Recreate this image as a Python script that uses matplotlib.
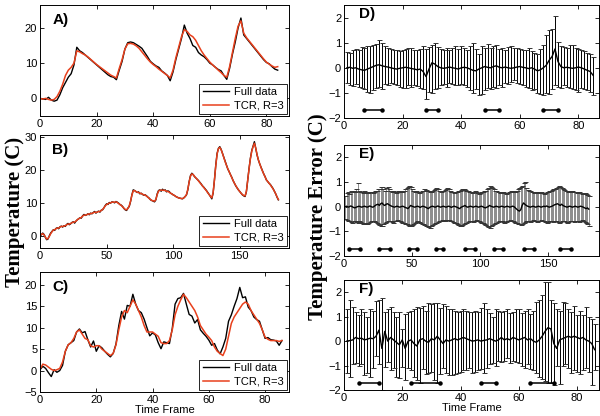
import numpy as np
import matplotlib
matplotlib.use('Agg')
import matplotlib.pyplot as plt

plt.rcParams['font.family'] = ['Liberation Sans', 'DejaVu Sans']
plt.rcParams['font.size'] = 8

# ---- Panel A: temperature, full data vs TCR (R=3)
a_full = [0, -0.2, -0.3, 0.3, -0.5, -0.8, -0.5, 1, 3, 4.5, 6, 7, 9.5, 14.5,
          13.5, 13, 12.3, 11.6, 10.9, 10.2, 9.5, 8.8, 8.1, 7.4, 6.7, 6.2, 6, 5.3,
          8, 10.5, 14, 15.8, 16, 15.8, 15.3, 14.8, 14.2, 13, 11.8, 10.5, 9.8, 9.2,
          8.8, 7.8, 7.2, 6.5, 5, 7.5, 11, 14, 17, 20.8, 18.5, 17, 15, 14.5, 13,
          12.3, 11.8, 11, 10, 9.5, 8.8, 8.2, 7.8, 6.5, 5.4, 8.5, 12.5, 16, 20, 22.8,
          18, 17, 16, 15, 14, 13, 12, 11, 10.2, 9.8, 9, 8.3, 8]
a_tcr = [0, -0.2, 0, -0.3, -0.5, -0.3, 0.5, 2, 4, 6.5, 8, 8.8, 10, 13.5, 13.2,
         12.7, 12.3, 11.7, 11, 10.3, 9.6, 9, 8.4, 7.8, 7.2, 6.6, 6.2, 5.8, 8.5, 11,
         14, 15.5, 15.6, 15.4, 14.9, 14.2, 13.2, 12.2, 11.2, 10.3, 9.6, 9, 8.3, 7.7,
         7.1, 6.5, 5.8, 8, 11.5, 14.5, 17.5, 19.5, 19, 18, 17.5, 16.5, 15, 13.5,
         12.3, 11.3, 10.3, 9.5, 8.8, 8, 7.3, 6.5, 6, 9, 13, 17, 20.5, 22, 18.5,
         17.2, 16.2, 15.2, 14.2, 13.2, 12.2, 11.2, 10.3, 9.7, 9.2, 8.8, 9]

# ---- Panel B
b_full = [0.0, 0.5, 1.0, 0.6, -0.3, -1.0, -0.8, 0.2, 1.0, 1.5,
          2.0, 1.8, 2.4, 2.6, 2.3, 2.9, 3.1, 2.8, 3.2, 3.0,
          3.6, 3.9, 3.5, 3.8, 4.2, 4.4, 4.0, 4.6, 5.0, 5.3,
          5.6, 5.5, 6.2, 6.6, 6.3, 6.5, 6.8, 6.5, 7.0, 6.8,
          7.2, 7.5, 7.0, 7.4, 7.6, 7.3, 7.9, 8.0, 8.6, 9.3,
          9.8, 9.6, 10.2, 10.0, 10.4, 10.3, 10.1, 10.5, 10.3, 10.0,
          9.6, 9.4, 9.0, 8.4, 8.0, 7.8, 8.5, 9.0, 10.5, 12.5,
          14.0, 13.8, 13.5, 13.2, 13.4, 12.8, 13.0, 12.6, 12.4, 12.5,
          12.2, 11.8, 11.5, 11.0, 10.8, 10.6, 10.4, 11.0, 12.8, 13.8,
          14.0, 13.6, 14.2, 13.8, 14.0, 13.4, 13.7, 13.5, 13.0, 12.8,
          12.5, 12.3, 12.0, 11.8, 11.6, 11.5, 11.4, 11.3, 11.6, 12.0,
          12.5, 14.0, 16.5, 18.3, 19.0, 18.6, 18.0, 17.6, 17.2, 16.8,
          16.3, 15.8, 15.2, 14.8, 14.3, 13.8, 13.2, 12.6, 12.0, 11.3,
          13.0, 17.0, 21.5, 25.0, 26.5, 27.0, 26.2, 25.0, 23.8, 22.5,
          21.5, 20.3, 19.5, 18.6, 17.8, 16.8, 16.0, 15.2, 14.6, 14.0,
          13.5, 13.0, 12.5, 12.2, 12.0, 13.5, 17.0, 20.5, 23.5, 25.8,
          27.2, 28.5, 26.5, 24.5, 23.0, 21.8, 20.8, 19.8, 18.8, 18.0,
          17.0, 16.5, 16.0, 15.6, 15.0, 14.4, 13.6, 12.8, 11.8, 11.0]
b_tcr = [0.2, 0.6, 0.8, 0.5, -0.2, -0.8, -0.6, 0.0, 0.8, 1.4,
         1.9, 2.0, 2.3, 2.5, 2.5, 2.8, 3.0, 3.0, 3.1, 3.2,
         3.5, 3.7, 3.7, 3.9, 4.1, 4.3, 4.3, 4.6, 5.0, 5.3,
         5.5, 5.7, 6.1, 6.4, 6.4, 6.5, 6.7, 6.7, 6.9, 6.9,
         7.1, 7.3, 7.2, 7.3, 7.5, 7.5, 7.8, 8.1, 8.6, 9.2,
         9.6, 9.8, 10.0, 10.1, 10.3, 10.3, 10.3, 10.4, 10.2, 9.9,
         9.6, 9.3, 8.9, 8.5, 8.1, 8.0, 8.4, 9.2, 10.6, 12.4,
         13.7, 13.8, 13.5, 13.3, 13.2, 13.0, 12.9, 12.7, 12.5, 12.4,
         12.1, 11.8, 11.4, 11.1, 10.8, 10.7, 10.6, 11.1, 12.6, 13.6,
         13.9, 13.9, 13.9, 13.9, 13.8, 13.6, 13.5, 13.3, 13.0, 12.8,
         12.5, 12.3, 12.0, 11.8, 11.6, 11.5, 11.4, 11.4, 11.6, 12.0,
         12.6, 14.2, 16.4, 18.1, 18.8, 18.6, 18.1, 17.6, 17.2, 16.7,
         16.2, 15.7, 15.2, 14.7, 14.2, 13.7, 13.1, 12.6, 12.0, 11.6,
         13.2, 17.0, 21.3, 24.8, 26.4, 26.8, 26.1, 25.0, 23.7, 22.5,
         21.4, 20.4, 19.5, 18.6, 17.7, 16.8, 16.0, 15.3, 14.6, 14.0,
         13.5, 13.0, 12.6, 12.3, 12.2, 13.6, 17.0, 20.4, 23.4, 25.6,
         27.0, 28.0, 26.6, 24.6, 23.0, 21.8, 20.7, 19.7, 18.8, 17.9,
         17.0, 16.5, 16.0, 15.5, 14.9, 14.3, 13.6, 12.8, 11.9, 11.1]

# ---- Panel C
c_full = [0.2, 1.0, 0.5, -0.5, -1.4, 0.2, -0.4, 0.0, 1.2, 4.5, 6.0, 6.5, 7.0,
          9.0, 9.7, 8.8, 9.1, 7.2, 5.5, 6.9, 4.5, 5.8, 5.3, 4.5, 3.8, 3.2, 4.0,
          6.2, 10.5, 13.8, 12.0, 15.2, 15.0, 17.8, 15.5, 14.0, 13.5, 12.0, 10.0,
          8.1, 8.8, 8.3, 6.5, 5.1, 6.7, 6.5, 6.3, 9.8, 15.5, 16.8, 17.0, 18.0,
          15.5, 13.1, 12.7, 11.1, 11.9, 9.5, 8.7, 8.0, 7.1, 5.9, 6.3, 4.8, 3.9,
          5.5, 7.5, 11.5, 13.0, 15.0, 16.8, 19.4, 17.0, 17.2, 14.8, 14.0, 12.5,
          11.9, 11.5, 9.5, 7.5, 7.7, 7.2, 7.1, 6.9, 5.9, 7.0]
c_tcr = [0.3, 1.5, 1.3, 0.8, 0.3, 0.0, 0.2, 0.5, 2.0, 4.5, 6.0, 6.5, 7.5, 9.0,
         9.5, 8.5, 7.5, 7.2, 5.8, 5.5, 5.8, 5.8, 5.0, 4.5, 4.0, 3.5, 4.0, 6.0,
         9.5, 12.5, 14.0, 13.5, 15.0, 16.5, 15.5, 14.0, 12.5, 10.5, 9.0, 9.0,
         9.0, 8.5, 8.0, 6.5, 6.3, 6.3, 7.0, 9.5, 13.0, 15.0, 16.5, 17.8, 17.0,
         16.0, 15.0, 14.0, 12.5, 10.5, 9.5, 8.5, 7.8, 7.0, 5.5, 4.5, 4.0, 3.5,
         5.0, 8.0, 11.0, 12.5, 13.5, 14.5, 15.5, 16.0, 15.5, 14.0, 13.0, 12.0,
         11.0, 9.5, 7.8, 7.3, 7.0, 7.0, 7.0, 6.8, 7.0]

# ---- Panel D: temperature error (mean, upper and lower bar ends)
d_mean = [0.00, 0.02, -0.02, 0.00, -0.05, -0.08, -0.10, -0.05, 0.00, 0.05,
          0.10, 0.12, 0.08, 0.05, 0.03, 0.00, -0.03, -0.05, -0.02, 0.00,
          0.02, 0.00, -0.03, -0.05, -0.08, -0.05, -0.15, -0.35, -0.05, 0.20,
          0.15, 0.05, 0.00, -0.02, 0.00, 0.03, 0.00, -0.02, -0.05, 0.00,
          0.02, 0.00, -0.05, -0.10, -0.12, -0.05, 0.00, 0.05, 0.02, 0.00,
          0.05, 0.08, 0.02, 0.00, 0.03, 0.00, -0.02, 0.00, 0.03, 0.05,
          0.02, 0.00, -0.03, 0.00, -0.05, -0.12, -0.08, 0.00, 0.10, 0.30,
          0.45, 0.75, 0.25, 0.05, 0.00, 0.02, 0.00, -0.02, 0.00, 0.03,
          0.00, -0.05, -0.10, -0.15, -0.30]
d_hi = [0.62, 0.60, 0.72, 0.75, 0.70, 0.82, 0.78, 0.88, 0.85, 0.90,
        0.95, 1.12, 0.98, 0.85, 0.80, 0.75, 0.72, 0.70, 0.68, 0.72,
        0.75, 0.78, 0.80, 0.72, 0.70, 0.76, 0.88, 0.75, 0.82, 0.92,
        1.00, 0.82, 0.75, 0.70, 0.78, 0.72, 0.80, 0.85, 0.75, 0.88,
        0.80, 0.70, 0.85, 1.00, 0.75, 0.55, 0.85, 0.80, 0.95, 0.80,
        0.85, 0.92, 0.75, 0.80, 0.72, 0.82, 0.86, 0.78, 0.80, 0.75,
        0.72, 0.70, 0.78, 0.68, 0.60, 0.55, 0.75, 0.90, 1.30, 1.50,
        1.55, 2.05, 1.02, 0.85, 0.82, 0.80, 0.90, 0.92, 0.80, 0.75,
        0.70, 0.65, 0.60, 0.55, 0.45]
d_lo = [-0.60, -0.70, -0.72, -0.65, -0.75, -0.80, -0.85, -0.95, -1.00, -0.90,
        -0.80, -0.75, -0.85, -0.65, -0.70, -0.60, -0.65, -0.70, -0.75, -0.80,
        -0.82, -0.70, -0.75, -0.68, -0.72, -0.80, -0.85, -1.25, -0.95, -1.00,
        -0.85, -0.80, -0.70, -0.65, -0.75, -0.60, -0.65, -0.70, -0.68, -0.65,
        -0.70, -0.75, -0.90, -1.00, -0.85, -1.10, -1.05, -0.90, -0.80, -0.85,
        -0.75, -0.80, -0.70, -0.75, -0.60, -0.65, -0.55, -0.50, -0.60, -0.65,
        -0.70, -0.75, -0.80, -0.90, -0.85, -1.00, -1.05, -1.10, -1.00, -1.05,
        -0.85, -0.70, -0.75, -0.80, -0.70, -0.75, -0.80, -0.85, -0.90, -0.95,
        -0.80, -0.85, -0.90, -0.95, -1.10]

# ---- Panel E
e_mean = [0.00, 0.02, -0.02, 0.00, 0.03, 0.00, -0.03, -0.05, -0.02, 0.00,
          0.02, 0.00, -0.02, 0.00, 0.02, 0.00, -0.02, 0.00, 0.03, 0.00,
          -0.02, 0.00, 0.05, 0.08, 0.10, 0.05, 0.12, 0.15, 0.08, 0.05,
          0.10, 0.12, 0.08, 0.05, 0.02, 0.00, -0.02, 0.00, 0.02, 0.00,
          -0.02, 0.00, 0.02, 0.00, -0.03, -0.05, -0.08, -0.02, 0.05, 0.02,
          0.00, -0.02, 0.00, 0.02, 0.00, -0.03, 0.00, 0.02, 0.00, -0.02,
          -0.05, -0.08, -0.03, 0.00, 0.02, 0.00, -0.02, 0.00, 0.03, 0.00,
          -0.02, 0.00, 0.02, 0.00, -0.02, 0.00, 0.02, 0.00, -0.03, 0.00,
          0.02, 0.00, -0.02, -0.05, -0.08, -0.03, 0.00, 0.02, 0.05, 0.00,
          -0.02, 0.00, 0.02, 0.00, -0.02, 0.00, 0.02, 0.00, -0.02, 0.00,
          0.02, 0.00, -0.03, -0.05, -0.02, 0.00, 0.05, 0.02, 0.00, -0.02,
          0.00, 0.02, 0.00, -0.02, 0.00, 0.02, 0.00, -0.02, 0.00, 0.02,
          0.00, -0.02, 0.00, 0.02, 0.00, -0.05, -0.10, -0.15, -0.18, -0.12,
          0.05, 0.15, 0.10, 0.05, 0.02, 0.00, -0.02, 0.00, 0.02, 0.00,
          -0.02, 0.00, 0.02, 0.00, -0.02, 0.00, 0.02, 0.00, 0.03, 0.00,
          -0.02, 0.00, 0.02, 0.05, 0.08, 0.10, 0.12, 0.08, 0.05, 0.10,
          0.05, 0.02, 0.00, -0.02, 0.00, 0.02, 0.00, -0.02, 0.00, 0.02,
          0.00, -0.02, 0.00, 0.02, 0.00, -0.02, -0.05, -0.08, -0.05, -0.10]
e_hi = [0.45, 0.55, 0.60, 0.50, 0.62, 0.58, 0.65, 0.60, 0.70, 0.95,
        0.65, 0.60, 0.58, 0.55, 0.62, 0.60, 0.57, 0.55, 0.60, 0.58,
        0.55, 0.60, 0.62, 0.65, 0.70, 0.72, 0.78, 0.80, 0.70, 0.65,
        0.75, 0.80, 0.72, 0.65, 0.60, 0.62, 0.58, 0.55, 0.60, 0.62,
        0.65, 0.60, 0.58, 0.62, 0.70, 0.75, 0.78, 0.82, 0.80, 0.72,
        0.65, 0.60, 0.62, 0.58, 0.55, 0.60, 0.62, 0.65, 0.70, 0.68,
        0.65, 0.62, 0.60, 0.58, 0.62, 0.68, 0.72, 0.75, 0.70, 0.65,
        0.60, 0.62, 0.65, 0.68, 0.72, 0.75, 0.70, 0.65, 0.60, 0.58,
        0.55, 0.58, 0.60, 0.62, 0.65, 0.68, 0.70, 0.72, 0.68, 0.65,
        0.62, 0.60, 0.58, 0.55, 0.60, 0.62, 0.58, 0.55, 0.52, 0.55,
        0.58, 0.60, 0.62, 0.65, 0.70, 0.75, 0.85, 0.80, 0.75, 0.70,
        0.65, 0.62, 0.60, 0.58, 0.55, 0.58, 0.60, 0.55, 0.52, 0.55,
        0.58, 0.60, 0.62, 0.65, 0.60, 0.58, 0.62, 0.70, 0.75, 0.80,
        0.85, 0.95, 1.02, 0.75, 0.68, 0.65, 0.62, 0.60, 0.58, 0.55,
        0.58, 0.60, 0.57, 0.55, 0.58, 0.55, 0.52, 0.55, 0.58, 0.60,
        0.62, 0.65, 0.68, 0.70, 0.72, 0.75, 0.78, 0.82, 0.80, 0.75,
        0.72, 0.68, 0.65, 0.62, 0.60, 0.58, 0.62, 0.65, 0.60, 0.58,
        0.55, 0.58, 0.60, 0.55, 0.52, 0.50, 0.55, 0.50, 0.48, 0.45]
e_lo = [-0.50, -0.55, -0.60, -0.58, -0.62, -0.65, -0.60, -0.58, -0.62, -0.65,
        -0.60, -0.62, -0.65, -0.70, -0.68, -0.72, -0.70, -0.65, -0.62, -0.60,
        -0.58, -0.60, -0.62, -0.65, -0.70, -0.75, -0.80, -0.78, -0.72, -0.65,
        -0.62, -0.60, -0.58, -0.60, -0.62, -0.65, -0.60, -0.58, -0.55, -0.58,
        -0.60, -0.62, -0.65, -0.68, -0.70, -0.72, -0.75, -0.78, -0.80, -0.75,
        -0.70, -0.65, -0.62, -0.60, -0.62, -0.65, -0.70, -0.72, -0.75, -0.78,
        -0.80, -0.82, -0.85, -0.80, -0.75, -0.70, -0.68, -0.65, -0.62, -0.60,
        -0.58, -0.55, -0.58, -0.60, -0.55, -0.52, -0.55, -0.58, -0.60, -0.62,
        -0.65, -0.68, -0.72, -0.75, -0.78, -0.80, -0.75, -0.70, -0.68, -0.65,
        -0.62, -0.60, -0.58, -0.60, -0.62, -0.58, -0.55, -0.58, -0.60, -0.62,
        -0.65, -0.68, -0.72, -0.75, -0.78, -0.82, -0.85, -0.80, -0.75, -0.70,
        -0.68, -0.65, -0.62, -0.60, -0.58, -0.60, -0.62, -0.65, -0.62, -0.60,
        -0.58, -0.55, -0.58, -0.60, -0.62, -0.65, -0.68, -0.70, -0.72, -0.75,
        -0.70, -0.65, -0.62, -0.60, -0.58, -0.60, -0.62, -0.58, -0.55, -0.58,
        -0.60, -0.62, -0.60, -0.58, -0.55, -0.58, -0.60, -0.62, -0.65, -0.62,
        -0.60, -0.58, -0.60, -0.62, -0.60, -0.58, -0.62, -0.65, -0.62, -0.60,
        -0.58, -0.60, -0.62, -0.65, -0.62, -0.60, -0.58, -0.60, -0.62, -0.60,
        -0.58, -0.60, -0.62, -0.58, -0.55, -0.60, -0.62, -0.65, -0.70, -0.80]

# ---- Panel F
f_mean = [0.00, 0.02, 0.05, 0.15, 0.10, 0.12, 0.05, 0.08, 0.12, 0.10,
          0.20, 0.45, -0.30, 0.40, 0.00, 0.15, 0.05, -0.05, -0.15, 0.05,
          -0.30, 0.00, 0.05, -0.10, -0.20, 0.05, 0.10, 0.00, -0.05, 0.10,
          0.05, 0.20, 0.05, -0.10, 0.05, 0.00, 0.05, 0.10, 0.05, 0.10,
          0.15, 0.10, 0.05, 0.00, 0.02, 0.05, 0.00, 0.03, 0.05, 0.10,
          0.05, 0.00, 0.05, 0.15, 0.05, 0.10, 0.05, 0.15, 0.10, 0.05,
          0.10, 0.15, 0.05, 0.10, 0.00, -0.05, 0.05, 0.20, 0.40, 0.55,
          0.50, -0.10, -0.30, 0.05, 0.10, 0.15, 0.20, 0.15, 0.20, 0.15,
          0.10, 0.15, 0.05, 0.00, -0.10, -0.35]
f_hi = [1.30, 1.70, 1.40, 1.20, 1.05, 1.30, 1.20, 1.00, 1.30, 1.25,
        1.65, 1.70, 1.75, 1.20, 1.30, 1.40, 1.20, 1.00, 1.20, 0.50,
        1.10, 1.20, 1.25, 1.30, 1.40, 1.35, 1.45, 1.25, 1.55, 1.50,
        1.55, 1.55, 1.35, 1.50, 1.45, 1.30, 1.30, 1.25, 1.20, 1.25,
        1.30, 1.25, 1.20, 1.20, 1.25, 1.20, 1.35, 1.55, 1.30, 1.15,
        1.00, 1.30, 1.25, 1.20, 1.25, 1.30, 1.15, 1.20, 1.30, 1.30,
        1.15, 1.25, 1.30, 1.10, 1.25, 1.60, 1.70, 1.90, 2.40, 2.40,
        1.70, 1.55, 1.30, 1.25, 1.60, 1.55, 1.30, 1.20, 1.45, 1.05,
        1.25, 1.05, 1.40, 1.00, 0.90, 0.70]
f_lo = [-1.30, -1.45, -0.95, -0.90, -1.00, -0.95, -1.40, -1.30, -1.45, -1.10,
        -0.60, -0.95, -2.00, -1.05, -0.85, -1.20, -1.10, -1.45, -1.50, -1.05,
        -1.60, -1.10, -1.20, -1.45, -1.60, -1.70, -1.15, -1.35, -1.30, -1.25,
        -1.60, -1.70, -1.35, -1.10, -1.30, -1.40, -1.40, -1.35, -1.30, -1.25,
        -1.20, -1.20, -1.10, -1.30, -1.25, -1.20, -1.15, -1.30, -1.10, -0.95,
        -0.90, -1.00, -0.80, -0.85, -0.80, -0.70, -0.90, -0.80, -0.85, -0.90,
        -1.00, -1.10, -0.95, -1.15, -1.20, -1.30, -1.45, -1.55, -1.65, -1.70,
        -1.70, -1.80, -1.00, -1.75, -1.00, -0.95, -1.10, -1.30, -1.20, -1.25,
        -1.35, -1.20, -1.10, -1.25, -1.80, -1.20]

# heating intervals marked under the error bars
d_spans = [(7, 13), (28, 32), (48, 53), (68, 73)]
e_spans = [(4, 12), (26, 34), (48, 54), (68, 73), (89, 96), (110, 117), (132, 140), (159, 167)]
f_spans = [(5, 12), (23, 33), (47, 52), (64, 72)]

RED = '#e8401c'


def style(ax, xlim, ylim, xticks, yticks):
    ax.set_xlim(*xlim)
    ax.set_ylim(*ylim)
    ax.set_xticks(xticks)
    ax.set_yticks(yticks)
    ax.tick_params(direction='in', top=True, right=True, length=3, width=0.6,
                   labelsize=8, pad=2)
    for s in ax.spines.values():
        s.set_linewidth(0.7)


fig = plt.figure(figsize=(6, 4.16), dpi=100)

# left column
axA = fig.add_axes([0.0667, 0.7212, 0.415, 0.2668])
axB = fig.add_axes([0.0667, 0.4038, 0.415, 0.2716])
axC = fig.add_axes([0.0667, 0.0577, 0.415, 0.2885])

for ax, full, tcr, lab in [(axA, a_full, a_tcr, 'A)'), (axB, b_full, b_tcr, 'B)'),
                           (axC, c_full, c_tcr, 'C)')]:
    ax.plot(np.arange(len(full)), full, color='k', lw=1.0, label='Full data')
    ax.plot(np.arange(len(tcr)), tcr, color=RED, lw=1.1, label='TCR, R=3')
    leg = ax.legend(loc='lower right', fontsize=8, fancybox=False, framealpha=1,
                    edgecolor='k', handlelength=2.4, borderpad=0.3,
                    labelspacing=0.3, handletextpad=0.4, borderaxespad=0.2)
    leg.get_frame().set_linewidth(0.6)
    ax.text(0.05, 0.93, lab, transform=ax.transAxes, fontsize=11,
            fontweight='bold', va='top')

style(axA, (0, 88), (-5, 26.5), [0, 20, 40, 60, 80], [0, 10, 20])
style(axB, (0, 187), (-3.5, 30.5), [0, 50, 100, 150], [0, 10, 20, 30])
style(axC, (0, 88.5), (-5, 23), [0, 20, 40, 60, 80], [-5, 0, 5, 10, 15, 20])
axC.set_xlabel('Time Frame', fontsize=8, labelpad=0)

# right column
axD = fig.add_axes([0.5733, 0.7163, 0.425, 0.2716])
axE = fig.add_axes([0.5733, 0.3846, 0.425, 0.2668])
axF = fig.add_axes([0.5733, 0.0625, 0.425, 0.2644])

for ax, m, hi, lo, spans, lab, col in [(axD, d_mean, d_hi, d_lo, d_spans, 'D)', 'k'),
                                       (axE, e_mean, e_hi, e_lo, e_spans, 'E)', '0.55'),
                                       (axF, f_mean, f_hi, f_lo, f_spans, 'F)', 'k')]:
    m = np.array(m)
    hi = np.array(hi)
    lo = np.array(lo)
    x = np.arange(1, len(m) + 1)
    eb = ax.errorbar(x, m, yerr=[m - lo, hi - m], fmt='none', ecolor=col,
                     elinewidth=0.7, capsize=1.8, capthick=0.7)
    # darker caps (matters for the dense gray bars in E)
    for cap in eb[1]:
        cap.set_markeredgecolor('0.2')
    ax.plot(x, m, color='k', lw=1.0)
    for s0, s1 in spans:
        ax.plot([s0, s1], [-1.7, -1.7], color='k', lw=1.1, marker='o', ms=2.2)
    ax.text(0.06, 0.98, lab, transform=ax.transAxes, fontsize=11,
            fontweight='bold', va='top')

style(axD, (0, 87), (-2, 2.5), [0, 20, 40, 60, 80], [-2, -1, 0, 1, 2])
style(axE, (0, 187.5), (-2, 2.5), [0, 50, 100, 150], [-2, -1, 0, 1, 2])
style(axF, (0, 87.5), (-2, 2.5), [0, 20, 40, 60, 80], [-2, -1, 0, 1, 2])
axF.set_xlabel('Time Frame', fontsize=8, labelpad=0)

fig.text(0.025, 0.49, 'Temperature (C)', rotation=90, ha='center', va='center',
         family='Liberation Serif', fontweight='bold', fontsize=15)
fig.text(0.53, 0.48, 'Temperature Error (C)', rotation=90, ha='center', va='center',
         family='Liberation Serif', fontweight='bold', fontsize=15)

fig.savefig('out.png', dpi=100)
